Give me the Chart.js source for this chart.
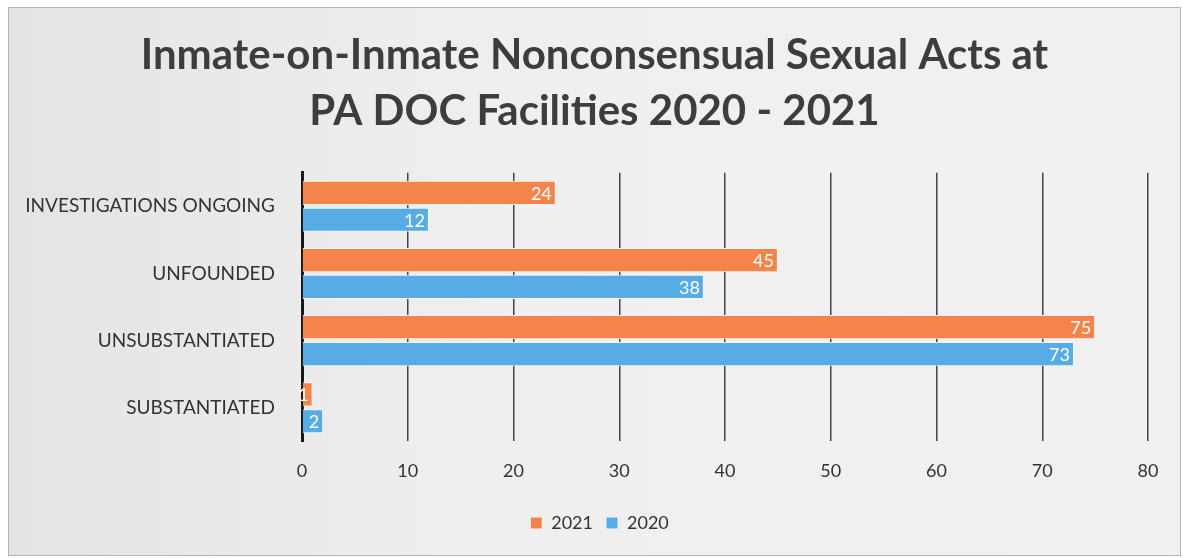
<!DOCTYPE html>
<html>
<head>
<meta charset="utf-8">
<script src="https://cdn.jsdelivr.net/npm/chart.js@4"></script>
<style>
  body { margin: 0; background: #fff; }
  #wrap { width: 1183px; height: 558px; position: relative; }
  #box { position: absolute; left: 8px; top: 7px; right: 2px; bottom: 2px;
         border: 1px solid #b5b5b5;
         background: linear-gradient(90deg, #e4e4e4 0%, #efefef 40%, #f1f1f1 100%); }
  canvas { position: absolute; left: 0; top: 0; }
</style>
</head>
<body>
<div id="wrap">
  <div id="box"></div>
  <canvas id="myChart" width="1183" height="558"></canvas>
</div>
<script>
const categories = ['INVESTIGATIONS ONGOING', 'UNFOUNDED', 'UNSUBSTANTIATED', 'SUBSTANTIATED'];
const values2021 = [24, 45, 75, 1];
const values2020 = [12, 38, 73, 2];
const xTicks = [0, 10, 20, 30, 40, 50, 60, 70, 80];

// white value labels at the end of each bar
const barLabels = {
  id: 'barLabels',
  afterDatasetsDraw(chart) {
    const ctx = chart.ctx;
    ctx.save();
    ctx.font = '18px Lato';
    ctx.fillStyle = '#ffffff';
    ctx.textAlign = 'right';
    ctx.textBaseline = 'middle';
    chart.data.datasets.forEach((ds, i) => {
      chart.getDatasetMeta(i).data.forEach((bar, j) => {
        ctx.fillText(ds.data[j], bar.x - 4, bar.y + 1);
      });
    });
    ctx.restore();
  }
};

// title and legend in the original sit a little right of the canvas centre
const centreShift = {
  id: 'centreShift',
  afterLayout(chart) {
    if (chart.titleBlock) chart.titleBlock.left += 36;
    if (chart.legend) chart.legend.left += 46;
  }
};

var ctx = document.getElementById('myChart');
var myChart = new Chart(ctx, {
  type: 'bar',
  data: {
    labels: categories,
    datasets: [
      {
        label: '2021',
        data: values2021,
        backgroundColor: '#f5844a',
        borderColor: '#f7f7f7',
        borderWidth: 1,
        borderSkipped: 'start',
      },
      {
        label: '2020',
        data: values2020,
        backgroundColor: '#58ace6',
        borderColor: '#f7f7f7',
        borderWidth: 1,
        borderSkipped: 'start',
      },
    ],
  },
  options: {
    indexAxis: 'y',
    responsive: false,
    animation: false,
    layout: { padding: { left: 5, right: 35, top: 20, bottom: 16 } },
    scales: {
      x: {
        min: 0,
        max: 80,
        afterBuildTicks: (axis) => { axis.ticks = xTicks.map(v => ({ value: v })); },
        grid: {
          color: (c) => c.tick && c.tick.value === 0 ? 'rgba(0,0,0,0)' : '#444',
          lineWidth: 1.5,
          drawTicks: false,
        },
        border: { display: false },
        ticks: { color: '#333', font: { family: 'Lato', size: 18 }, padding: 19 },
      },
      y: {
        afterFit: (axis) => { axis.width = 297; },
        grid: { display: false },
        border: { display: true, color: '#1a1a1a', width: 3 },
        ticks: { color: '#333', font: { family: 'Lato', size: 19 }, padding: 19 },
      },
    },
    plugins: {
      title: {
        display: true,
        text: ['Inmate-on-Inmate Nonconsensual Sexual Acts at', 'PA DOC Facilities 2020 - 2021'],
        color: '#3d3d3d',
        font: { family: 'Lato', size: 42, weight: 'bold', lineHeight: 1.33 },
        padding: { top: 8, bottom: 33 },
      },
      legend: {
        position: 'bottom',
        labels: { color: '#333', boxWidth: 12, boxHeight: 12, font: { family: 'Lato', size: 18 }, padding: 13 },
      },
      tooltip: { enabled: false },
    },
  },
  plugins: [barLabels, centreShift],
});
</script>
</body>
</html>
